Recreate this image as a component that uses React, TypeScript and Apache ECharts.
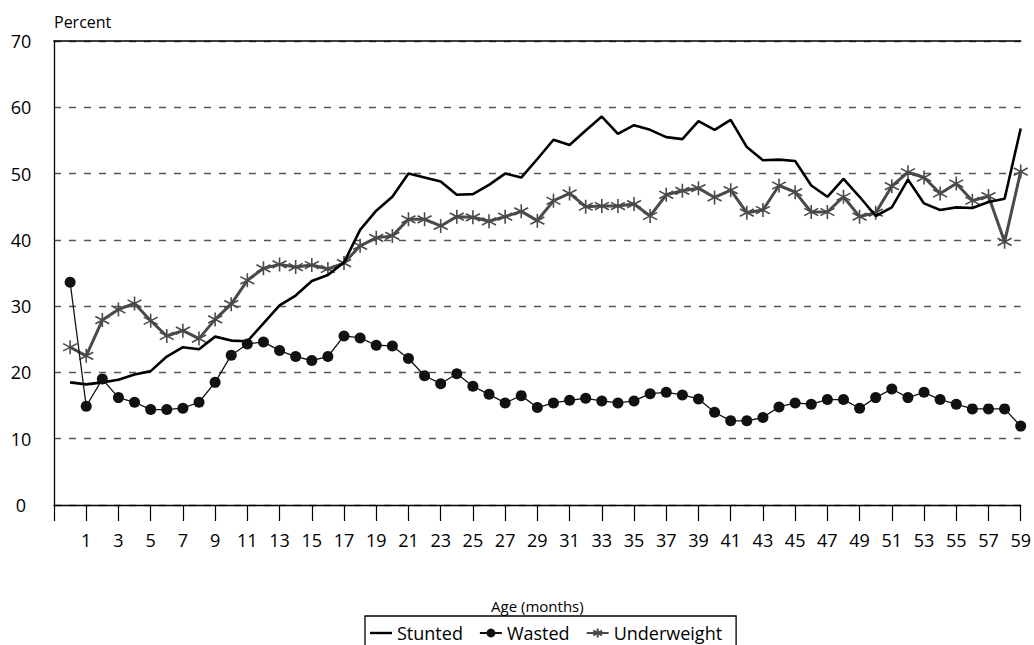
import React, { useEffect, useRef } from "react";
import * as echarts from "echarts";

const ages: number[] = Array.from({ length: 60 }, (_, i) => i);
const tickValues: number[] = [-1, 1, 3, 5, 7, 9, 11, 13, 15, 17, 19, 21, 23, 25, 27, 29, 31, 33, 35, 37, 39, 41, 43, 45, 47, 49, 51, 53, 55, 57, 59];
const labelValues: number[] = tickValues.filter((v) => v > 0);

const stunted: number[] = [
  18.5, 18.2, 18.5, 18.9, 19.7, 20.2, 22.4, 23.8, 23.5, 25.4,
  24.8, 24.7, 27.4, 30.1, 31.6, 33.8, 34.7, 36.6, 41.5, 44.4,
  46.5, 50.0, 49.4, 48.8, 46.8, 46.9, 48.3, 50.0, 49.4, 52.2,
  55.1, 54.3, 56.5, 58.6, 56.0, 57.3, 56.6, 55.5, 55.2, 57.9,
  56.6, 58.1, 54.0, 52.0, 52.1, 51.9, 48.2, 46.5, 49.2, 46.5,
  43.6, 44.9, 49.1, 45.5, 44.5, 44.9, 44.8, 45.7, 46.2, 56.8,
];

const wasted: number[] = [
  33.6, 14.9, 19.0, 16.2, 15.5, 14.4, 14.4, 14.6, 15.5, 18.5,
  22.6, 24.3, 24.6, 23.3, 22.4, 21.8, 22.4, 25.5, 25.2, 24.1,
  24.0, 22.1, 19.5, 18.3, 19.8, 17.9, 16.7, 15.4, 16.5, 14.7,
  15.4, 15.8, 16.1, 15.7, 15.4, 15.7, 16.8, 17.0, 16.6, 16.0,
  14.0, 12.7, 12.7, 13.2, 14.8, 15.4, 15.2, 15.9, 15.9, 14.6,
  16.2, 17.5, 16.2, 17.0, 15.9, 15.2, 14.5, 14.5, 14.5, 11.9,
];

const underweight: number[] = [
  23.8, 22.5, 27.9, 29.5, 30.4, 27.8, 25.5, 26.3, 25.1, 28.0,
  30.3, 33.9, 35.7, 36.3, 35.9, 36.2, 35.6, 36.5, 39.1, 40.3,
  40.6, 43.1, 43.1, 42.1, 43.5, 43.4, 42.8, 43.5, 44.3, 42.9,
  45.9, 47.0, 45.0, 45.1, 45.1, 45.4, 43.6, 46.8, 47.4, 47.8,
  46.4, 47.5, 44.1, 44.5, 48.2, 47.2, 44.2, 44.2, 46.5, 43.5,
  44.1, 48.1, 50.2, 49.4, 47.0, 48.5, 45.9, 46.6, 39.7, 50.3,
];

const FONT = "'Open Sans', 'DejaVu Sans', sans-serif";
const STAR = "path://M50 0L50 100M4 24L96 76M96 24L4 76";
const LINE_ICON = "path://M0 0H100V11H0Z";

export default function App() {
  const ref = useRef<HTMLDivElement>(null);
  useEffect(() => {
    if (!ref.current) return;
    const chart = echarts.init(ref.current, undefined, { renderer: "svg" });
    const pair = (vals: number[]) => ages.map((a, i) => [a, vals[i]]);
    chart.setOption({
      animation: false,
      backgroundColor: "#ffffff",
      textStyle: { fontFamily: FONT, color: "#000" },
      grid: { left: 54, right: 7, top: 41, bottom: 140, containLabel: false },
      xAxis: [
        {
          type: "value",
          min: -1,
          max: 59,
          name: "Age (months)",
          nameLocation: "middle",
          nameGap: 93,
          nameTextStyle: { fontFamily: FONT, fontSize: 15, color: "#000" },
          axisLine: { show: true, onZero: false, lineStyle: { color: "#000", width: 1.3 } },
          axisTick: { show: true, length: 16, customValues: tickValues, lineStyle: { color: "#000", width: 1.2 } },
          axisLabel: { customValues: labelValues, margin: 26, fontSize: 18, fontFamily: FONT, color: "#000" },
          splitLine: { show: false },
        },
        {
          type: "value",
          min: -1,
          max: 59,
          position: "top",
          axisLine: { show: true, onZero: false, lineStyle: { color: "#000", width: 1.6 } },
          axisTick: { show: false },
          axisLabel: { show: false },
          splitLine: { show: false },
        },
      ],
      yAxis: {
        type: "value",
        min: 0,
        max: 70,
        interval: 10,
        name: "Percent",
        nameLocation: "end",
        nameGap: 11,
        nameTextStyle: { fontFamily: FONT, fontSize: 16, color: "#000", align: "left" },
        axisLine: { show: true, onZero: false, lineStyle: { color: "#000", width: 1.3 } },
        axisTick: { show: false },
        axisLabel: { margin: 33, align: "center", fontSize: 18, fontFamily: FONT, color: "#000" },
        splitLine: { show: true, lineStyle: { color: "#555", width: 1.3, type: [7, 8] } },
      },
      legend: {
        left: 365,
        top: 616,
        orient: "horizontal",
        padding: [6, 14, 6, 5],
        itemGap: 16,
        itemWidth: 22,
        itemHeight: 11,
        borderColor: "#000",
        borderWidth: 1.3,
        textStyle: { fontFamily: FONT, fontSize: 18, color: "#000", lineHeight: 22 },
        data: [
          { name: "Stunted", icon: LINE_ICON },
          { name: "Wasted" },
          { name: "Underweight" },
        ],
      },
      series: [
        {
          name: "Stunted",
          type: "line",
          data: pair(stunted),
          showSymbol: false,
          symbol: "none",
          color: "#000",
          lineStyle: { color: "#000", width: 2.6 },
          z: 3,
        },
        {
          name: "Wasted",
          type: "line",
          data: pair(wasted),
          symbol: "circle",
          symbolSize: 11,
          color: "#111",
          itemStyle: { color: "#111" },
          lineStyle: { color: "#111", width: 1.3 },
          z: 4,
        },
        {
          name: "Underweight",
          type: "line",
          data: pair(underweight),
          symbol: STAR,
          symbolSize: 14,
          color: "#4a4a4a",
          itemStyle: { color: "#4a4a4a", borderColor: "#4a4a4a", borderWidth: 1.6 },
          lineStyle: { color: "#4a4a4a", width: 3 },
          z: 2,
        },
      ],
    });
    return () => chart.dispose();
  }, []);
  return (
    <div
      ref={ref}
      style={{ position: "fixed", left: 0, top: 0, width: 1034, height: 645, background: "#fff" }}
    />
  );
}
